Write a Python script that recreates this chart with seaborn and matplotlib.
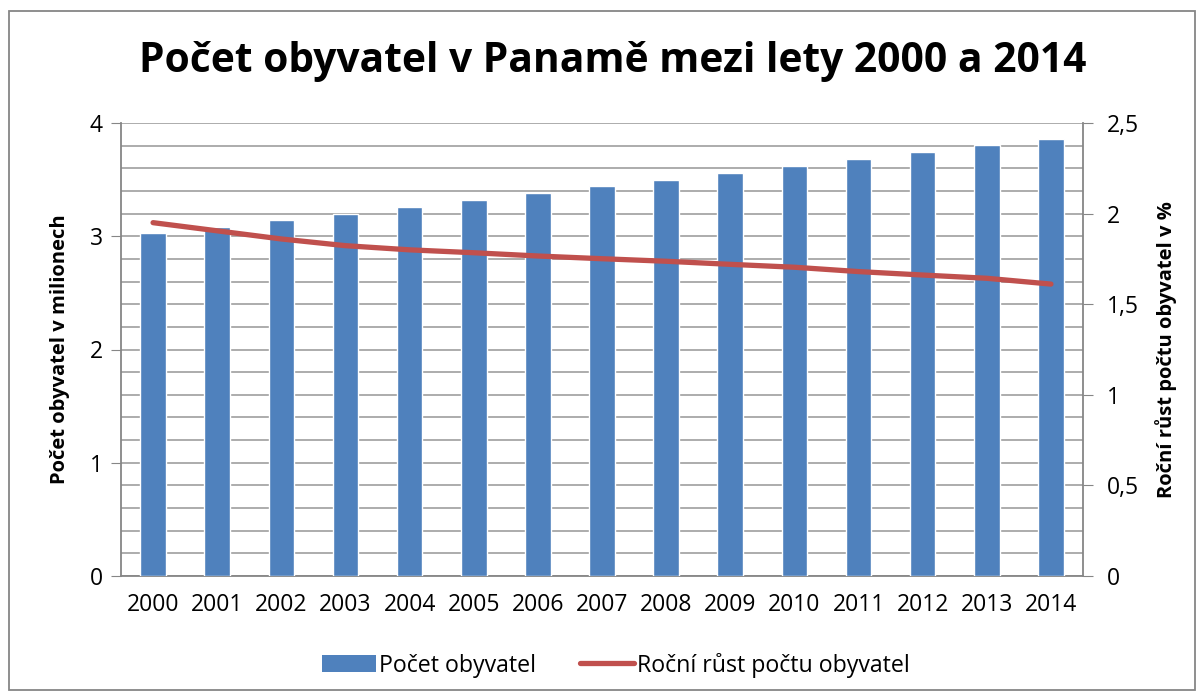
import matplotlib
matplotlib.use('Agg')
import numpy as np
import pandas as pd
import seaborn as sns
import matplotlib.pyplot as plt
from matplotlib.ticker import MultipleLocator, FuncFormatter
from matplotlib.patches import Patch, Rectangle
from matplotlib.lines import Line2D

# data
years = ['2000', '2001', '2002', '2003', '2004', '2005', '2006', '2007',
         '2008', '2009', '2010', '2011', '2012', '2013', '2014']
population = [3.03, 3.08, 3.14, 3.20, 3.26, 3.32, 3.38, 3.44,
              3.50, 3.56, 3.62, 3.68, 3.74, 3.81, 3.86]
growth = [1.95, 1.905, 1.86, 1.823, 1.80, 1.784, 1.766, 1.751,
          1.737, 1.72, 1.704, 1.68, 1.661, 1.643, 1.611]

title = 'Počet obyvatel v Panamě mezi lety 2000 a 2014'
left_label = 'Počet obyvatel v milionech'
right_label = 'Roční růst počtu obyvatel v %'
bar_name = 'Počet obyvatel'
line_name = 'Roční růst počtu obyvatel'

blue = '#4F81BD'
red = '#C0504D'
grid_c = '#A6A6A6'
axis_c = '#868686'

sns.set_style('white')
plt.rcParams['font.family'] = ['Open Sans', 'DejaVu Sans']
plt.rcParams['text.color'] = 'black'
plt.rcParams['xtick.labelcolor'] = 'black'
plt.rcParams['ytick.labelcolor'] = 'black'
plt.rcParams['axes.labelcolor'] = 'black'

df = pd.DataFrame({'year': years, 'population': population, 'growth': growth})

fig = plt.figure(figsize=(12.04, 6.99), dpi=100)
ax = fig.add_axes([121 / 1204, 1 - 576 / 699, (1083 - 121) / 1204, (576 - 123) / 699])

sns.barplot(data=df, x='year', y='population', color=blue, width=0.4,
            saturation=1, ax=ax, zorder=3)
ax.set_xlim(-0.5, len(years) - 0.5)
ax.set_ylim(0, 4)
ax.yaxis.set_major_locator(MultipleLocator(1))
ax.yaxis.set_minor_locator(MultipleLocator(0.2))
ax.grid(True, which='both', axis='y', color=grid_c, linewidth=1.3, zorder=0)
ax.set_axisbelow(True)
ax.set_xlabel('')
ax.set_ylabel(left_label, fontsize=14.5, fontweight='bold', labelpad=14)
ax.tick_params(axis='y', which='major', length=7, color=axis_c, labelsize=16.5, pad=6)
ax.tick_params(axis='y', which='minor', length=0)
ax.set_xticks(np.arange(len(years)) - 0.5, minor=True)
ax.tick_params(axis='x', which='major', length=0, labelsize=16.5, pad=12)
ax.tick_params(axis='x', which='minor', length=7, color=axis_c, direction='out')
for s in ['top', 'right']:
    ax.spines[s].set_visible(False)
for s in ['left', 'bottom']:
    ax.spines[s].set_color(axis_c)
    ax.spines[s].set_linewidth(1.3)

ax2 = ax.twinx()
sns.lineplot(x=np.arange(len(years)), y=df['growth'], color=red, linewidth=3.8,
             ax=ax2, solid_capstyle='round', zorder=4)
ax2.set_ylim(0, 2.5)
ax2.yaxis.set_major_locator(MultipleLocator(0.5))
ax2.yaxis.set_major_formatter(FuncFormatter(lambda v, p: f'{v:g}'.replace('.', ',')))
ax2.set_ylabel(right_label, fontsize=14.5, fontweight='bold', labelpad=12)
ax2.tick_params(axis='y', length=7, color=axis_c, labelsize=16.5, pad=10)
for s in ['top', 'left', 'bottom']:
    ax2.spines[s].set_visible(False)
ax2.spines['right'].set_color(axis_c)
ax2.spines['right'].set_linewidth(1.3)
ax2.grid(False)

fig.text(613 / 1204, 1 - 62 / 699, title, ha='center', va='center',
         fontsize=29.3, fontweight='bold')

handles = [Patch(facecolor=blue, edgecolor='none'),
           Line2D([0], [0], color=red, linewidth=3.8, solid_capstyle='round')]
fig.legend(handles, [bar_name, line_name], loc='center',
           bbox_to_anchor=(616 / 1204, 1 - 665 / 699), ncol=2, frameon=False,
           fontsize=16.7, handlelength=2.3, handletextpad=0.15, columnspacing=1.9)

fig.add_artist(Rectangle((8.5 / 1204, 1 - 690 / 699), 1186 / 1204, 679 / 699,
                         transform=fig.transFigure, fill=False,
                         edgecolor=axis_c, linewidth=1.3))

fig.savefig('out.png', dpi=100)
